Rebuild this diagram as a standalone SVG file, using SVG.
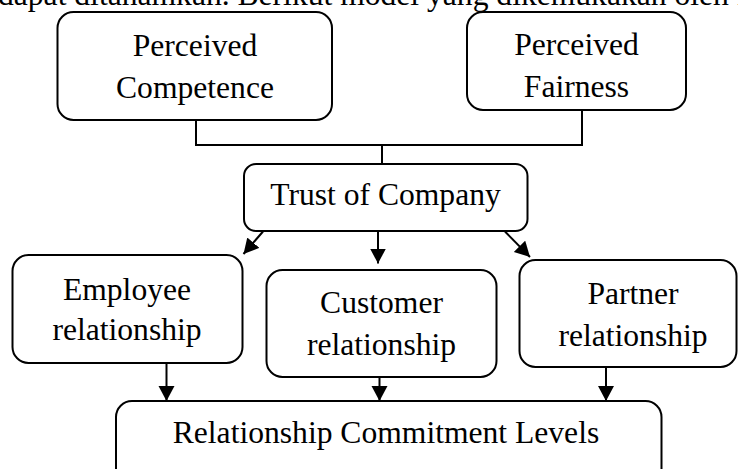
<svg xmlns="http://www.w3.org/2000/svg" width="738" height="469" viewBox="0 0 738 469">
  <style>
    .box { fill: #ffffff; stroke: #000000; stroke-width: 2; }
    .lbl { font-family: "Liberation Serif", "Times New Roman", serif; font-size: 31.6px; fill: #000000; text-anchor: middle; }
    .body { font-family: "Liberation Serif", "Times New Roman", serif; font-size: 31.6px; fill: #000000; }
    .wire { fill: none; stroke: #000000; stroke-width: 2; }
  </style>
  <defs>
    <marker id="head" markerUnits="userSpaceOnUse" markerWidth="16" markerHeight="17" refX="15" refY="8" orient="auto">
      <path d="M0,0 L15,8 L0,16 Z" fill="#000000"/>
    </marker>
  </defs>

  <rect width="738" height="469" fill="#ffffff"/>

  <!-- running text line, clipped by the top edge -->
  <text class="body" x="-2" y="5">dapat ditanamkan. Berikut model yang dikemukakan oleh F</text>

  <!-- connectors -->
  <g id="connectors">
    <path class="wire" d="M196,120 V145 H582 V110"/>
    <path class="wire" d="M382,145 V164"/>
    <path class="wire" d="M263,231.5 L243.5,254" marker-end="url(#head)"/>
    <path class="wire" d="M378,231.5 V263.5" marker-end="url(#head)"/>
    <path class="wire" d="M505,231.5 L530,257" marker-end="url(#head)"/>
    <path class="wire" d="M166.5,363 V401" marker-end="url(#head)"/>
    <path class="wire" d="M379.5,377 V401" marker-end="url(#head)"/>
    <path class="wire" d="M606,367 V401" marker-end="url(#head)"/>
  </g>

  <g id="perceived-competence">
    <rect class="box" x="57.5" y="12" width="274.5" height="108" rx="16"/>
    <text class="lbl" x="195" y="56">Perceived</text>
    <text class="lbl" x="195" y="98">Competence</text>
  </g>

  <g id="perceived-fairness">
    <rect class="box" x="467" y="12" width="219" height="98" rx="16"/>
    <text class="lbl" x="576.5" y="55">Perceived</text>
    <text class="lbl" x="576.5" y="97">Fairness</text>
  </g>

  <g id="trust-of-company">
    <rect class="box" x="244" y="164" width="283.5" height="67" rx="12"/>
    <text class="lbl" x="385.5" y="204.5">Trust of Company</text>
  </g>

  <g id="employee-relationship">
    <rect class="box" x="12.5" y="255" width="230" height="108" rx="16"/>
    <text class="lbl" x="127" y="300">Employee</text>
    <text class="lbl" x="127" y="340">relationship</text>
  </g>

  <g id="customer-relationship">
    <rect class="box" x="266.5" y="270" width="230" height="107" rx="16"/>
    <text class="lbl" x="381.5" y="313">Customer</text>
    <text class="lbl" x="381.5" y="355">relationship</text>
  </g>

  <g id="partner-relationship">
    <rect class="box" x="519.5" y="260" width="217" height="107" rx="16"/>
    <text class="lbl" x="633" y="304">Partner</text>
    <text class="lbl" x="633" y="346">relationship</text>
  </g>

  <g id="relationship-commitment-levels">
    <rect class="box" x="116" y="401" width="545.5" height="90" rx="16"/>
    <text class="lbl" x="386" y="443">Relationship Commitment Levels</text>
  </g>
</svg>
